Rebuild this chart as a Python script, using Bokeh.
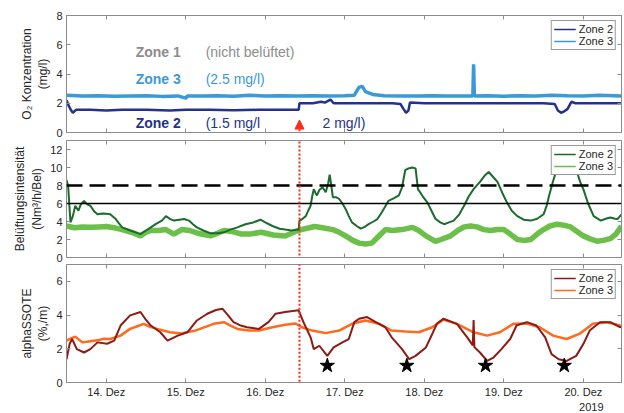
from bokeh.plotting import figure
from bokeh.models import (Range1d, FixedTicker, LinearAxis, Span, Label, Legend, LegendItem,
                          Arrow, NormalHead, Title)
from bokeh.layouts import column
from bokeh.embed import file_html
from bokeh.resources import INLINE

# ---------------- data (time in days of December 2019) ----------------
tick_days = [14, 15, 16, 17, 18, 19, 20]
tick_labels = ["14. Dez", "15. Dez", "16. Dez", "17. Dez", "18. Dez", "19. Dez", "20. Dez"]
switch_day = 16.43

# O2 concentration
o2_z3_t = [13.50, 13.70, 13.90, 14.10, 14.30, 14.50, 14.70, 14.90, 15.00, 15.02, 15.20, 15.40, 15.60,
           15.80, 16.00, 16.20, 16.40, 16.60, 16.80, 17.00, 17.12, 17.18, 17.22, 17.26, 17.35, 17.50,
           17.70, 17.90, 18.10, 18.30, 18.50, 18.61, 18.62, 18.63, 18.80, 19.00, 19.20, 19.40, 19.60,
           19.80, 20.00, 20.20, 20.48]
o2_z3_v = [2.55, 2.50, 2.52, 2.48, 2.50, 2.52, 2.47, 2.50, 2.35, 2.50, 2.50, 2.52, 2.48,
           2.55, 2.50, 2.52, 2.50, 2.52, 2.50, 2.52, 2.55, 3.10, 3.15, 2.80, 2.60, 2.52,
           2.50, 2.50, 2.52, 2.50, 2.50, 2.50, 4.66, 2.50, 2.52, 2.48, 2.52, 2.50, 2.55,
           2.52, 2.50, 2.55, 2.50]
o2_z2_t = [13.50, 13.53, 13.56, 13.58, 13.62, 13.80, 14.00, 14.20, 14.50, 14.80, 15.00, 15.30, 15.60,
           15.90, 16.20, 16.42, 16.43, 16.60, 16.70, 16.75, 16.82, 16.86, 17.10, 17.40, 17.60, 17.70,
           17.74, 17.77, 17.80, 17.82, 18.00, 18.30, 18.60, 18.90, 19.20, 19.50, 19.64, 19.68, 19.72,
           19.76, 19.80, 19.85, 19.90, 20.20, 20.48]
o2_z2_v = [2.20, 1.80, 1.50, 1.35, 1.55, 1.55, 1.50, 1.55, 1.55, 1.50, 1.55, 1.55, 1.52,
           1.55, 1.55, 1.55, 2.00, 2.00, 2.10, 2.05, 2.25, 2.00, 2.00, 2.00, 2.00, 1.95,
           1.60, 1.35, 1.50, 2.05, 2.00, 2.00, 2.00, 2.00, 2.00, 2.00, 1.95, 1.50, 1.35,
           1.45, 1.60, 2.10, 2.00, 2.00, 2.00]

# Aeration intensity
air_z2_t = [13.50, 13.52, 13.55, 13.58, 13.61, 13.65, 13.68, 13.72, 13.76, 13.80, 13.85, 13.89, 13.95,
            14.00, 14.05, 14.09, 14.12, 14.16, 14.20, 14.30, 14.43, 14.50, 14.56, 14.62, 14.70, 14.75,
            14.80, 14.85, 14.92, 14.98, 15.04, 15.09, 15.14, 15.22, 15.31, 15.40, 15.48, 15.56, 15.65,
            15.75, 15.85, 15.94, 16.00, 16.09, 16.18, 16.25, 16.33, 16.42, 16.43, 16.47, 16.51, 16.54,
            16.57, 16.59, 16.61, 16.63, 16.65, 16.68, 16.72, 16.76, 16.79, 16.81, 16.83, 16.85, 16.89,
            16.93, 16.97, 17.01, 17.05, 17.09, 17.15, 17.20, 17.25, 17.30, 17.36, 17.41, 17.45, 17.49,
            17.55, 17.62, 17.68, 17.72, 17.76, 17.80, 17.85, 17.89, 17.92, 17.98, 18.04, 18.09, 18.14,
            18.20, 18.25, 18.31, 18.37, 18.44, 18.50, 18.56, 18.62, 18.70, 18.76, 18.81, 18.86, 18.92,
            18.98, 19.04, 19.10, 19.17, 19.25, 19.34, 19.42, 19.50, 19.54, 19.57, 19.62, 19.68, 19.75,
            19.82, 19.88, 19.92, 19.96, 20.00, 20.06, 20.13, 20.22, 20.28, 20.34, 20.40, 20.43, 20.48]
air_z2_v = [8.6, 8.0, 3.9, 4.6, 5.75, 5.2, 5.9, 6.3, 5.9, 5.75, 5.1, 4.8, 4.9,
            4.85, 4.8, 4.5, 4.27, 3.8, 3.35, 3.0, 2.6, 3.0, 3.35, 3.7, 4.1, 4.6,
            4.3, 4.1, 4.2, 4.27, 4.1, 3.7, 3.35, 3.0, 2.7, 2.7, 2.8, 3.1, 3.35,
            3.7, 3.9, 4.2, 3.9, 3.5, 3.2, 3.1, 3.0, 3.1, 4.1, 4.3, 4.6, 5.2,
            5.75, 6.8, 7.6, 7.2, 6.9, 7.5, 7.8, 7.25, 8.2, 9.2, 8.0, 6.7, 6.7,
            6.5, 6.0, 5.4, 4.6, 3.9, 3.5, 3.2, 3.4, 3.7, 4.0, 4.27, 4.8, 5.4,
            6.3, 6.6, 6.9, 7.8, 9.7, 9.9, 10.0, 9.9, 7.6, 6.8, 6.1, 5.2, 4.3,
            3.9, 3.7, 3.9, 4.1, 4.8, 5.75, 6.8, 7.6, 8.4, 9.1, 9.5, 9.0, 8.4,
            7.2, 6.1, 5.2, 4.6, 4.2, 4.1, 4.3, 4.8, 5.8, 6.9, 8.5, 10.2, 11.0,
            10.8, 10.3, 9.5, 8.4, 7.6, 6.0, 4.6, 4.1, 4.3, 4.45, 4.3, 4.27, 4.8]
air_z3_t = [13.50, 13.60, 13.70, 13.80, 13.90, 14.00, 14.10, 14.20, 14.35, 14.43, 14.50, 14.56, 14.65,
            14.75, 14.85, 14.95, 15.05, 15.15, 15.31, 15.40, 15.48, 15.58, 15.70, 15.80, 15.95, 16.10,
            16.25, 16.38, 16.50, 16.62, 16.72, 16.85, 16.93, 17.01, 17.10, 17.18, 17.26, 17.34, 17.42,
            17.51, 17.60, 17.72, 17.85, 17.93, 18.02, 18.14, 18.21, 18.33, 18.42, 18.50, 18.58, 18.66,
            18.75, 18.83, 18.92, 19.00, 19.08, 19.17, 19.25, 19.34, 19.42, 19.50, 19.58, 19.67, 19.75,
            19.84, 19.92, 20.00, 20.08, 20.17, 20.25, 20.34, 20.41, 20.48]
air_z3_v = [3.5, 3.3, 3.4, 3.35, 3.4, 3.45, 3.3, 3.1, 2.7, 2.4, 2.8, 3.0, 3.0,
            3.1, 2.6, 3.1, 3.0, 2.7, 2.4, 2.7, 3.0, 2.9, 2.6, 2.6, 2.8, 2.5,
            2.4, 2.9, 3.2, 3.45, 3.3, 3.1, 2.8, 2.4, 1.9, 1.6, 1.5, 1.6, 2.3,
            3.1, 3.0, 3.1, 3.35, 3.0, 2.4, 1.8, 2.0, 2.4, 3.0, 3.4, 3.5, 3.4,
            3.1, 3.0, 3.1, 3.1, 2.6, 2.0, 1.9, 2.0, 2.6, 3.1, 3.5, 3.7, 3.6,
            3.4, 2.9, 2.4, 2.1, 1.8, 1.9, 2.1, 2.6, 3.5]
air_limit_dashed = 8
air_limit_solid = 6

# alphaSOTE
sote_z2_t = [13.50, 13.54, 13.57, 13.63, 13.72, 13.80, 13.89, 14.01, 14.10, 14.18, 14.30, 14.43, 14.49,
             14.56, 14.68, 14.77, 14.90, 15.02, 15.14, 15.27, 15.38, 15.46, 15.53, 15.60, 15.68, 15.77,
             15.92, 16.04, 16.13, 16.25, 16.42, 16.48, 16.57, 16.61, 16.68, 16.78, 16.86, 16.97, 17.05,
             17.12, 17.18, 17.28, 17.39, 17.51, 17.59, 17.72, 17.81, 17.89, 18.02, 18.10, 18.16, 18.24,
             18.41, 18.54, 18.61, 18.62, 18.63, 18.70, 18.79, 18.87, 18.97, 19.08, 19.16, 19.29, 19.41,
             19.52, 19.60, 19.69, 19.79, 19.91, 20.00, 20.08, 20.21, 20.34, 20.46, 20.48]
sote_z2_v = [1.38, 2.3, 2.58, 1.98, 1.78, 1.98, 2.38, 2.3, 2.48, 3.38, 3.98, 4.18, 3.78,
             3.38, 2.98, 2.48, 2.78, 2.98, 3.68, 4.08, 4.3, 4.38, 4.0, 3.58, 3.4, 3.28,
             3.18, 3.58, 4.08, 4.18, 4.28, 3.58, 2.68, 1.98, 2.18, 1.58, 2.08, 2.38, 2.58,
             3.58, 3.78, 3.88, 3.58, 3.28, 2.68, 1.98, 1.38, 1.58, 2.08, 2.88, 3.5, 3.78,
             3.48, 2.68, 2.2, 3.7, 2.1, 1.78, 1.28, 1.48, 1.98, 2.58, 3.38, 3.58, 3.38,
             2.68, 1.68, 1.38, 1.28, 1.58, 2.28, 3.08, 3.58, 3.58, 3.28, 3.3]
sote_z3_t = [13.50, 13.55, 13.61, 13.70, 13.80, 13.89, 13.97, 14.05, 14.18, 14.30, 14.40, 14.47, 14.55,
             14.64, 14.80, 14.95, 15.02, 15.10, 15.18, 15.35, 15.48, 15.55, 15.65, 15.79, 15.92, 16.09,
             16.25, 16.38, 16.46, 16.59, 16.76, 16.93, 17.09, 17.26, 17.43, 17.59, 17.76, 17.93, 18.10,
             18.24, 18.41, 18.62, 18.79, 18.95, 19.12, 19.29, 19.45, 19.62, 19.79, 19.95, 20.12, 20.29,
             20.46, 20.48]
sote_z3_v = [2.48, 2.6, 2.72, 2.38, 2.45, 2.5, 2.6, 2.58, 2.78, 3.18, 3.35, 3.48, 3.3,
             3.18, 2.98, 2.9, 3.0, 3.05, 3.18, 3.48, 3.58, 3.4, 3.18, 3.08, 3.08, 3.28,
             3.42, 3.5, 3.28, 3.08, 2.93, 3.08, 3.48, 3.68, 3.48, 3.08, 3.02, 2.98, 3.28,
             3.73, 3.48, 2.98, 2.78, 2.98, 3.48, 3.5, 3.28, 2.78, 2.58, 2.88, 3.48, 3.58,
             3.38, 3.3]
star_t = [16.78, 17.78, 18.77, 19.76]
star_v = [1.0, 1.0, 1.0, 1.0]

# ---------------- styling ----------------
FONT = "Liberation Sans"
FRAME = "#8c8c8c"
TXT = "#262626"
RED = "#ff2a1a"
X0, X1 = 13.5, 20.48
LEFT = 66
RIGHT = 1
W = 622


def make_fig(height, ymax, yticks, top, bottom, ylabel, show_x):
    p = figure(width=W, height=height, x_range=Range1d(X0, X1), y_range=Range1d(0, ymax),
               output_backend="svg", toolbar_location=None, tools="")
    p.min_border_left = LEFT
    p.min_border_right = RIGHT
    p.min_border_top = top
    p.min_border_bottom = bottom
    p.xgrid.visible = False
    p.ygrid.visible = False
    p.outline_line_color = FRAME
    p.outline_line_width = 1
    p.background_fill_color = "white"
    p.border_fill_color = "white"
    for ax in (p.xaxis[0], p.yaxis[0]):
        ax.major_tick_in = 4
        ax.major_tick_out = 0
        ax.minor_tick_in = 0
        ax.minor_tick_out = 0
        ax.axis_line_color = FRAME
        ax.major_tick_line_color = FRAME
        ax.major_label_text_font = FONT
        ax.major_label_text_font_size = "11px"
        ax.major_label_text_color = TXT
    p.xaxis[0].ticker = FixedTicker(ticks=tick_days)
    p.xaxis[0].major_label_overrides = {d: l for d, l in zip(tick_days, tick_labels)}
    p.xaxis[0].major_label_standoff = 3
    if not show_x:
        p.xaxis[0].major_label_text_font_size = "0px"
        p.xaxis[0].major_label_standoff = 0
    p.yaxis[0].ticker = FixedTicker(ticks=yticks)
    p.yaxis[0].major_label_standoff = 4
    p.yaxis[0].axis_label = ylabel
    p.yaxis[0].axis_label_text_font = FONT
    p.yaxis[0].axis_label_text_font_size = "12px"
    p.yaxis[0].axis_label_text_font_style = "normal"
    p.yaxis[0].axis_label_text_color = TXT
    p.yaxis[0].axis_label_standoff = 3
    # inward ticks on top and right edges
    for side, tk in (("above", tick_days), ("right", yticks)):
        ax = LinearAxis(ticker=FixedTicker(ticks=tk), major_tick_in=4, major_tick_out=0,
                        minor_tick_in=0, minor_tick_out=0, major_label_text_font_size="0px",
                        major_label_standoff=0, axis_line_color=FRAME, major_tick_line_color=FRAME)
        p.add_layout(ax, side)
    return p


def add_legend(p, c2, c3):
    # legend proxies drawn outside the visible range, so only their legend glyphs show
    r2 = p.line(x=[X0 - 2, X0 - 1], y=[-5, -5], line_color=c2, line_width=1.5)
    r3 = p.line(x=[X0 - 2, X0 - 1], y=[-5, -5], line_color=c3, line_width=1.5)
    lg = Legend(items=[LegendItem(label="Zone 2", renderers=[r2]), LegendItem(label="Zone 3", renderers=[r3])],
                location="top_right", label_text_font=FONT, label_text_font_size="11px",
                label_text_color=TXT, border_line_color="#333333", border_line_width=1,
                background_fill_alpha=1, glyph_width=22, glyph_height=12, label_height=12,
                spacing=0, padding=2, margin=5, label_standoff=3)
    p.add_layout(lg)


def vline(p, y0, y1, head=False):
    a = Arrow(x_start=switch_day, y_start=y0, x_end=switch_day, y_end=y1,
              line_color=RED, line_width=2, line_dash="2 2",
              end=NormalHead(size=9, fill_color=RED, line_color=RED, line_width=1) if head else None)
    p.add_layout(a)


# ---- top panel ----
p1 = make_fig(139, 8, [0, 2, 4, 6, 8], 15, 7, "O\u2082 Konzentration\n(mg/l)", False)
p1.line(o2_z3_t, o2_z3_v, line_color="#3a9ad9", line_width=3.5)
p1.line(o2_z2_t, o2_z2_v, line_color="#24328a", line_width=2.5)
add_legend(p1, "#24328a", "#3a9ad9")
vline(p1, -1.0, 0.85, head=True)
for txt, x, y, col, st in [("Zone 1", 14.37, 5.48, "#8c8c8c", "bold"),
                           ("(nicht belüftet)", 15.25, 5.48, "#8c8c8c", "normal"),
                           ("Zone 3", 14.37, 3.63, "#3a9ad9", "bold"),
                           ("(2.5 mg/l)", 15.25, 3.63, "#3a9ad9", "normal"),
                           ("Zone 2", 14.37, 0.68, "#24328a", "bold"),
                           ("(1.5 mg/l", 15.25, 0.68, "#24328a", "normal"),
                           ("2 mg/l)", 16.72, 0.68, "#24328a", "normal")]:
    p1.add_layout(Label(x=x, y=y, text=txt, text_color=col, text_font=FONT, text_font_size="14px",
                        text_font_style=st, text_baseline="middle", text_align="left"))

# ---- middle panel ----
p2 = make_fig(124, 13, [0, 2, 4, 6, 8, 10, 12], 1, 6, "Belüftungsintensität\n(Nm\u00b3/h/Bel)", False)
p2.line(air_z3_t, air_z3_v, line_color="#6cc04a", line_width=5.5)
p2.line(air_z2_t, air_z2_v, line_color="#1a6b2c", line_width=2)
p2.add_layout(Span(location=air_limit_dashed, dimension="width", line_color="black", line_width=2.5,
                   line_dash="16 7"))
p2.add_layout(Span(location=air_limit_solid, dimension="width", line_color="black", line_width=1.5))
add_legend(p2, "#1a6b2c", "#6cc04a")
vline(p2, -2.0, 15.0)

# ---- bottom panel ----
p3 = make_fig(149, 7, [0, 2, 4, 6], 1, 30, "alphaSSOTE\n(%,/m)", True)
p3.line(sote_z3_t, sote_z3_v, line_color="#ff6a1f", line_width=2.5)
p3.line(sote_z2_t, sote_z2_v, line_color="#8e1a14", line_width=2)
p3.scatter(star_t, star_v, marker="star", size=15, fill_color="black", line_color="black")
add_legend(p3, "#8e1a14", "#ff6a1f")
vline(p3, -0.2, 8.0)
p3.add_layout(Title(text="2019", align="right", text_font=FONT, text_font_size="11px",
                    text_font_style="normal", text_color=TXT, offset=18, standoff=0), "below")

layout = column(p1, p2, p3, spacing=0)
open("out.html", "w").write(file_html(layout, INLINE))
